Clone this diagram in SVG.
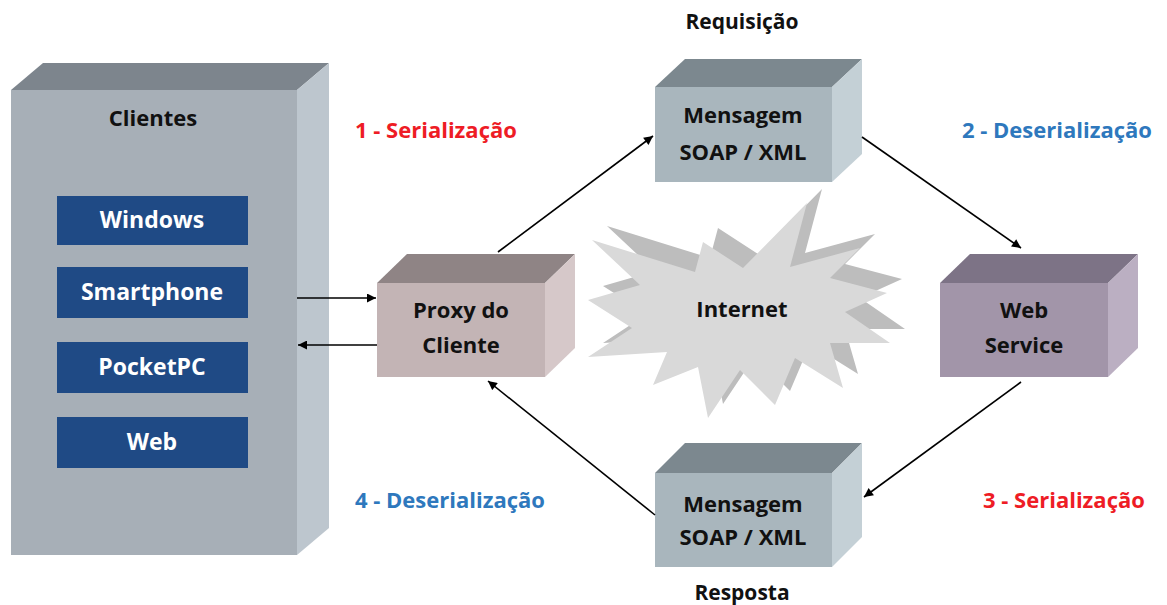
<svg xmlns="http://www.w3.org/2000/svg" width="1167" height="605" viewBox="0 0 1167 605">
  <style>
    text { font-family: "Open Sans", "Liberation Sans", sans-serif; font-weight: bold; }
    .lbl { font-size: 22px; fill: #111; text-anchor: middle; }
    .plat { font-size: 23px; fill: #ffffff; text-anchor: middle; }
    .step { font-size: 22px; }
    .red { fill: #ee1c25; }
    .blue { fill: #2e78bd; }
    .edge { stroke: #000; stroke-width: 1.6; fill: none; marker-end: url(#arr); }
    .platbox { fill: #1f4a85; }
  </style>
  <defs>
    <marker id="arr" viewBox="0 0 10 10" refX="10" refY="5" markerWidth="11" markerHeight="9" markerUnits="userSpaceOnUse" orient="auto">
      <path d="M0,0 L10,5 L0,10 z" fill="#000"/>
    </marker>
  </defs>

  <rect width="1167" height="605" fill="#ffffff"/>

  <!-- Clientes: tall cuboid holding the platform list -->
  <g id="clientes">
    <polygon points="11,90 43,63 329,63 297,90" fill="#7d858d"/>
    <polygon points="297,90 329,63 329,528 297,555" fill="#bdc6ce"/>
    <rect x="11" y="90" width="286" height="465" fill="#a7afb7"/>
    <text class="lbl" x="153" y="126">Clientes</text>
    <g id="windows">
      <rect class="platbox" x="57" y="196" width="191" height="49"/>
      <text class="plat" x="152" y="228">Windows</text>
    </g>
    <g id="smartphone">
      <rect class="platbox" x="57" y="267" width="191" height="51"/>
      <text class="plat" x="152" y="300">Smartphone</text>
    </g>
    <g id="pocketpc">
      <rect class="platbox" x="57" y="342" width="191" height="51"/>
      <text class="plat" x="152" y="375">PocketPC</text>
    </g>
    <g id="web">
      <rect class="platbox" x="57" y="417" width="191" height="51"/>
      <text class="plat" x="152" y="450">Web</text>
    </g>
  </g>

  <!-- Internet cloud: starburst with a darker offset copy behind -->
  <g id="internet">
    <polygon transform="translate(15,-14)" fill="#bdbdbd" points="592,240 695,272 703,242 743,268 807,203 790,267 860,248 830,278 887,293 845,312 890,343 830,343 843,388 795,358 775,405 740,370 708,418 698,367 653,385 667,352 588,357 632,328 588,300 640,285"/>
    <polygon fill="#d9d9d9" points="592,240 695,272 703,242 743,268 807,203 790,267 860,248 830,278 887,293 845,312 890,343 830,343 843,388 795,358 775,405 740,370 708,418 698,367 653,385 667,352 588,357 632,328 588,300 640,285"/>
    <text class="lbl" x="742" y="317">Internet</text>
  </g>

  <!-- Proxy do Cliente -->
  <g id="proxy">
    <polygon points="377,283 407,254 575,254 545,283" fill="#8f8485"/>
    <polygon points="545,283 575,254 575,348 545,377" fill="#d6c8c9"/>
    <rect x="377" y="283" width="168" height="94" fill="#c3b4b5"/>
    <text class="lbl" x="461" y="318">Proxy do</text>
    <text class="lbl" x="461" y="353">Cliente</text>
  </g>

  <!-- Request message -->
  <g id="msg-req">
    <polygon points="655,87 685,59 862,59 832,87" fill="#7c888f"/>
    <polygon points="832,87 862,59 862,154 832,182" fill="#c4d0d6"/>
    <rect x="655" y="87" width="177" height="95" fill="#a9b6bd"/>
    <text class="lbl" x="743" y="123">Mensagem</text>
    <text class="lbl" x="743" y="160">SOAP / XML</text>
  </g>

  <!-- Web Service -->
  <g id="webservice">
    <polygon points="940,283 970,254 1138,254 1108,283" fill="#7d7386"/>
    <polygon points="1108,283 1138,254 1138,348 1108,377" fill="#bbafc2"/>
    <rect x="940" y="283" width="168" height="94" fill="#a295a9"/>
    <text class="lbl" x="1024" y="318">Web</text>
    <text class="lbl" x="1024" y="353">Service</text>
  </g>

  <!-- Response message -->
  <g id="msg-resp">
    <polygon points="655,473 685,443 862,443 832,473" fill="#7c888f"/>
    <polygon points="832,473 862,443 862,537 832,567" fill="#c4d0d6"/>
    <rect x="655" y="473" width="177" height="94" fill="#a9b6bd"/>
    <text class="lbl" x="743" y="512">Mensagem</text>
    <text class="lbl" x="743" y="545">SOAP / XML</text>
  </g>

  <!-- Free labels -->
  <g id="labels">
    <text class="lbl" x="742" y="29" style="font-size:21px">Requisição</text>
    <text class="lbl" x="742" y="600" style="font-size:21px">Resposta</text>
    <text class="step red" x="355" y="138">1 - Serialização</text>
    <text class="step blue" x="962" y="138">2 - Deserialização</text>
    <text class="step red" x="983" y="508">3 - Serialização</text>
    <text class="step blue" x="355" y="508">4 - Deserialização</text>
  </g>

  <!-- Connectors -->
  <g id="connectors">
    <line class="edge" x1="297" y1="298" x2="376" y2="298"/>
    <line class="edge" x1="377" y1="345" x2="298" y2="345"/>
    <line class="edge" x1="498" y1="252" x2="653" y2="136"/>
    <line class="edge" x1="862" y1="137" x2="1021" y2="248"/>
    <line class="edge" x1="1021" y1="382" x2="864" y2="497"/>
    <line class="edge" x1="655" y1="515" x2="488" y2="381"/>
  </g>
</svg>
